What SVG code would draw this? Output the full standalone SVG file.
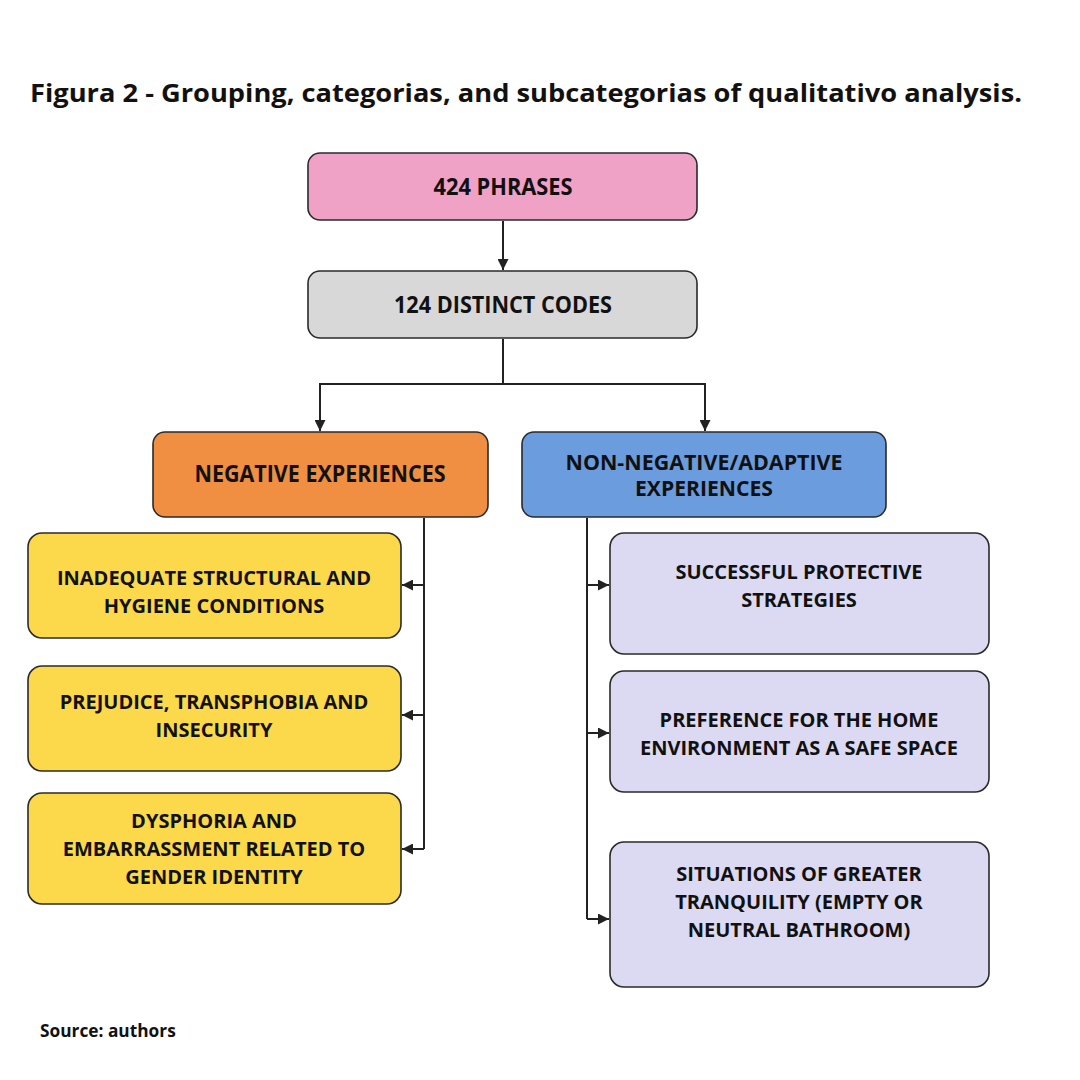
<svg xmlns="http://www.w3.org/2000/svg" width="1080" height="1080" viewBox="0 0 1080 1080">
<style>
.t{font-family:"Open Sans","Liberation Sans",sans-serif;font-weight:700;fill:#111;text-anchor:middle}
.hd{font-size:24px}
.hs{font-size:21px}
.sb{font-size:20px}
.box{stroke:#2a2a2a;stroke-width:1.6}
.ln{fill:none;stroke:#222;stroke-width:2}
</style>
<defs>
<marker id="ah" viewBox="0 0 10 10" refX="10" refY="5" markerWidth="5.5" markerHeight="5.5" orient="auto" markerUnits="strokeWidth">
<path d="M0,0 L10,5 L0,10 Z" fill="#222"/>
</marker>
</defs>
<rect width="1080" height="1080" fill="#fff"/>
<text x="30" y="102" style="font-family:'Open Sans','Liberation Sans',sans-serif;font-weight:700;font-size:25px;fill:#111" textLength="992" lengthAdjust="spacingAndGlyphs">Figura 2 - Grouping, categorias, and subcategorias of qualitativo analysis.</text>

<g id="connectors">
<path class="ln" d="M503,221 V270" marker-end="url(#ah)"/>
<path class="ln" d="M503,339 V384 H320 V431" marker-end="url(#ah)"/>
<path class="ln" d="M503,384 H705 V431" marker-end="url(#ah)"/>
<path class="ln" d="M424,518 V849"/>
<path class="ln" d="M424,585 H402" marker-end="url(#ah)"/>
<path class="ln" d="M424,715 H402" marker-end="url(#ah)"/>
<path class="ln" d="M424,849 H402" marker-end="url(#ah)"/>
<path class="ln" d="M587,518 V919"/>
<path class="ln" d="M587,585 H609" marker-end="url(#ah)"/>
<path class="ln" d="M587,733 H609" marker-end="url(#ah)"/>
<path class="ln" d="M587,919 H609" marker-end="url(#ah)"/>
</g>

<g id="phrases">
<rect class="box" x="308" y="153" width="389" height="67" rx="12" fill="#F0A1C6" stroke-width="2"/>
<text class="t hd" x="503" y="195" textLength="139" lengthAdjust="spacingAndGlyphs">424 PHRASES</text>
</g>
<g id="codes">
<rect class="box" x="308" y="271" width="389" height="67" rx="12" fill="#D8D8D8" stroke-width="2"/>
<text class="t hd" x="503" y="313" textLength="218" lengthAdjust="spacingAndGlyphs">124 DISTINCT CODES</text>
</g>
<g id="negative">
<rect class="box" x="153" y="432" width="335" height="85" rx="12" fill="#F08E42" stroke-width="2"/>
<text class="t hd" x="320" y="482" textLength="251" lengthAdjust="spacingAndGlyphs">NEGATIVE EXPERIENCES</text>
</g>
<g id="adaptive">
<rect class="box" x="522" y="432" width="364" height="85" rx="12" fill="#6B9CDD" stroke-width="2"/>
<text class="t hs" x="704" y="470" textLength="277" lengthAdjust="spacingAndGlyphs">NON-NEGATIVE/ADAPTIVE</text>
<text class="t hs" x="704" y="496" textLength="138" lengthAdjust="spacingAndGlyphs">EXPERIENCES</text>
</g>

<g id="inadequate">
<rect class="box" x="28" y="533" width="373" height="105" rx="14" fill="#FCD94B"/>
<text class="t sb" x="214" y="585">INADEQUATE STRUCTURAL AND</text>
<text class="t sb" x="214" y="613">HYGIENE CONDITIONS</text>
</g>
<g id="prejudice">
<rect class="box" x="28" y="666" width="373" height="105" rx="14" fill="#FCD94B"/>
<text class="t sb" x="214" y="709">PREJUDICE, TRANSPHOBIA AND</text>
<text class="t sb" x="214" y="737">INSECURITY</text>
</g>
<g id="dysphoria">
<rect class="box" x="28" y="793" width="373" height="111" rx="14" fill="#FCD94B"/>
<text class="t sb" x="214" y="828">DYSPHORIA AND</text>
<text class="t sb" x="214" y="856">EMBARRASSMENT RELATED TO</text>
<text class="t sb" x="214" y="884">GENDER IDENTITY</text>
</g>

<g id="protective">
<rect class="box" x="610" y="533" width="379" height="121" rx="14" fill="#DCDAF2"/>
<text class="t sb" x="799" y="579">SUCCESSFUL PROTECTIVE</text>
<text class="t sb" x="799" y="607">STRATEGIES</text>
</g>
<g id="home">
<rect class="box" x="610" y="671" width="379" height="121" rx="14" fill="#DCDAF2"/>
<text class="t sb" x="799" y="727">PREFERENCE FOR THE HOME</text>
<text class="t sb" x="799" y="755">ENVIRONMENT AS A SAFE SPACE</text>
</g>
<g id="tranquility">
<rect class="box" x="610" y="842" width="379" height="145" rx="14" fill="#DCDAF2"/>
<text class="t sb" x="799" y="881">SITUATIONS OF GREATER</text>
<text class="t sb" x="799" y="909">TRANQUILITY (EMPTY OR</text>
<text class="t sb" x="799" y="937">NEUTRAL BATHROOM)</text>
</g>

<text x="40" y="1037" style="font-family:'Open Sans','Liberation Sans',sans-serif;font-weight:700;font-size:17.3px;fill:#111">Source: authors</text>
</svg>
